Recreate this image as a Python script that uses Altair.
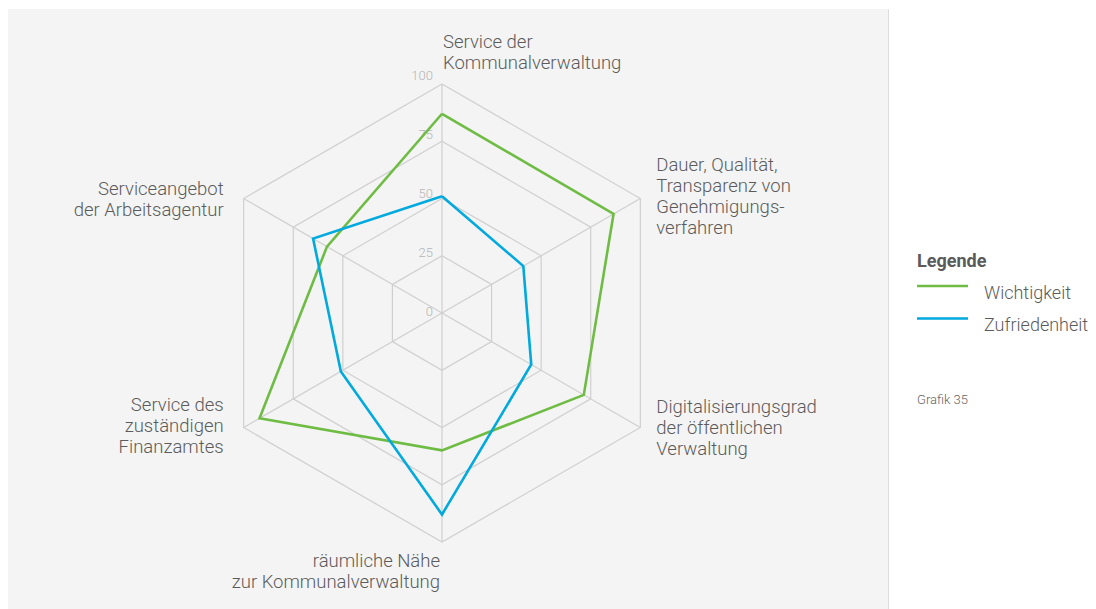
import altair as alt
import pandas as pd

# ---------------- data ----------------
categories = [
    "Service der\nKommunalverwaltung",
    "Dauer, Qualität,\nTransparenz von\nGenehmigungs-\nverfahren",
    "Digitalisierungsgrad\nder öffentlichen\nVerwaltung",
    "räumliche Nähe\nzur Kommunalverwaltung",
    "Service des\nzuständigen\nFinanzamtes",
    "Serviceangebot\nder Arbeitsagentur",
]
series_names = ["Wichtigkeit", "Zufriedenheit"]
wichtigkeit = [87, 86.5, 71.5, 60, 92, 58]
zufriedenheit = [51, 41, 45, 88, 51, 65]
grid_levels = [25, 50, 75, 100]
tick_values = [0, 25, 50, 75, 100]
tick_labels = ["0", "25", "50", "75", "100"]

colors = ["#6fbc44", "#00a9de"]
FONT = "Roboto"
TEXT_COLOR = "#5b5b5b"
FS = 18.5

# ---------------- tables ----------------
n = len(categories)
rows = []
for s, vals in zip(series_names, [wichtigkeit, zufriedenheit]):
    for k in range(n + 1):
        rows.append({"series": s, "idx": k % n, "order": k, "value": vals[k % n]})
series_df = pd.DataFrame(rows)

grid_rows = []
for lv in grid_levels:
    for k in range(n + 1):
        grid_rows.append({"level": lv, "idx": k % n, "order": k, "value": lv})
grid_df = pd.DataFrame(grid_rows)

spoke_df = pd.DataFrame({"idx": list(range(n)), "value": [100] * n, "zero": [0] * n})
tick_df = pd.DataFrame({"value": tick_values, "label": tick_labels, "zero": [0] * len(tick_values)})
label_df = pd.DataFrame({"idx": list(range(n)), "label": categories, "value": [100] * n})

ANG = "PI/2 - datum.idx*PI/3"
xcalc = f"datum.value*cos({ANG})"
ycalc = f"datum.value*sin({ANG})"

xscale = alt.Scale(domain=[-189.52, 194.76], nice=False, zero=False)
yscale = alt.Scale(domain=[-129.26, 132.75], nice=False, zero=False)
X = alt.X("px:Q", scale=xscale, axis=None)
Y = alt.Y("py:Q", scale=yscale, axis=None)
color_scale = alt.Scale(domain=series_names, range=colors)

bg = alt.Chart(pd.DataFrame({"a": [0]})).mark_rect(color="#f4f4f4", strokeWidth=0).encode(
    x=alt.value(0), x2=alt.value(880), y=alt.value(0), y2=alt.value(600))

grid = alt.Chart(grid_df).transform_calculate(px=xcalc, py=ycalc).mark_line(
    color="#cfcfcf", strokeWidth=1.2
).encode(x=X, y=Y, detail="level:N", order="order:Q")

spokes = alt.Chart(spoke_df).transform_calculate(px=xcalc, py=ycalc).mark_rule(
    color="#cfcfcf", strokeWidth=1.2
).encode(x=X, y=Y, x2="zero:Q", y2="zero:Q")

ticks = alt.Chart(tick_df).transform_calculate(ty="datum.value*1.03").mark_text(
    align="right", baseline="middle", dx=-9, dy=-1, font=FONT, fontWeight=300,
    fontSize=13, color="#b5b5b5"
).encode(x=alt.X("zero:Q", scale=xscale, axis=None),
         y=alt.Y("ty:Q", scale=yscale, axis=None), text="label:N")

lines = alt.Chart(series_df).transform_calculate(px=xcalc, py=ycalc).mark_line(
    strokeWidth=2.6, strokeJoin="miter"
).encode(x=X, y=Y, order="order:Q",
         color=alt.Color("series:N", scale=color_scale, legend=None))

label_layout = [
    ("left", 1, -36),
    ("left", 16, -27),
    ("left", 16, -14.5),
    ("right", -2, 25),
    ("right", -20, -16),
    ("right", -20, -3.5),
]
label_layers = []
for i, (al, dx, dy) in enumerate(label_layout):
    label_layers.append(
        alt.Chart(label_df).transform_filter(f"datum.idx == {i}")
        .transform_calculate(px=xcalc, py=ycalc)
        .mark_text(align=al, baseline="alphabetic", dx=dx, dy=dy, lineBreak="\n",
                   lineHeight=21, font=FONT, fontWeight=300, fontSize=FS,
                   color=TEXT_COLOR)
        .encode(x=X, y=Y, text="label:N")
    )

# legend (manual)
leg_title = alt.Chart(pd.DataFrame({"t": ["Legende"]})).mark_text(
    align="left", baseline="alphabetic", font=FONT, fontWeight="bold", fontSize=18,
    color=TEXT_COLOR
).encode(x=alt.value(909), y=alt.value(258), text="t:N")

leg_layers = []
for j, s in enumerate(series_names):
    d = pd.DataFrame({"series": [s]})
    leg_layers.append(alt.Chart(d).mark_rule(strokeWidth=2.6).encode(
        x=alt.value(909), x2=alt.value(960), y=alt.value(277 + 32.5 * j),
        color=alt.Color("series:N", scale=color_scale, legend=None)))
    leg_layers.append(alt.Chart(d).mark_text(
        align="left", baseline="alphabetic", font=FONT, fontWeight=300, fontSize=18,
        color=TEXT_COLOR).encode(x=alt.value(976), y=alt.value(290 + 32 * j),
                                 text="series:N"))

note = alt.Chart(pd.DataFrame({"t": ["Grafik 35"]})).mark_text(
    align="left", baseline="alphabetic", font=FONT, fontWeight=300, fontSize=13,
    color="#666666"
).encode(x=alt.value(909), y=alt.value(395), text="t:N")

chart = alt.layer(bg, grid, spokes, ticks, lines, *label_layers, leg_title, *leg_layers, note).properties(
    width=880, height=600,
    autosize=alt.AutoSizeParams(type="none"),
    padding={"left": 0, "top": 1, "right": 200, "bottom": 0},
).configure_view(fill="transparent", stroke="transparent", strokeWidth=0, strokeOpacity=0).configure(background="white")

chart.save("out.html", embed_options={"renderer": "svg", "actions": False})
